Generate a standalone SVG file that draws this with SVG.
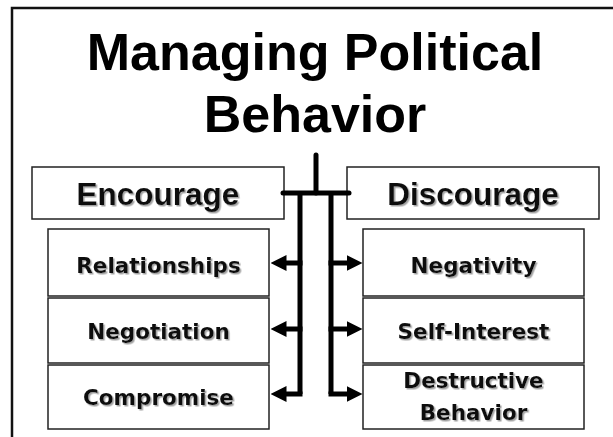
<svg xmlns="http://www.w3.org/2000/svg" width="613" height="437" viewBox="0 0 613 437">
  <defs>
    <filter id="sh" x="-10%" y="-20%" width="130%" height="160%">
      <feDropShadow dx="1.5" dy="1.5" stdDeviation="0.4" flood-color="#999" flood-opacity="0.9"/>
    </filter>
    <marker id="ah" markerUnits="userSpaceOnUse" markerWidth="16" markerHeight="17" viewBox="0 0 16 17" refX="0.5" refY="8.5" orient="auto">
      <path d="M0,0.5 L16,8.5 L0,16.5 z" fill="#000"/>
    </marker>
  </defs>
  <style>
    .title { font-family: "Liberation Sans", Arial, sans-serif; font-weight: bold; font-size: 52px; fill: #000; text-anchor: middle; }
    .head { font-family: "Liberation Sans", Arial, sans-serif; font-weight: bold; font-size: 31.5px; fill: #111; text-anchor: middle; filter: url(#sh); }
    .lbl { font-family: "DejaVu Sans", Verdana, sans-serif; font-weight: bold; font-size: 21.5px; fill: #111; text-anchor: middle; filter: url(#sh); }
    .box { fill: #fff; stroke: #222; stroke-width: 1.5; }
    .conn { fill: none; stroke: #000; stroke-width: 5; }
  </style>
  <rect width="613" height="437" fill="#fff"/>
  <path d="M12,437 V8 H613" fill="none" stroke="#111" stroke-width="2.5"/>

  <g id="title">
    <text class="title" x="315" y="70">Managing Political</text>
    <text class="title" x="315" y="132">Behavior</text>
  </g>

  <g id="encourage">
    <rect class="box" x="32" y="167" width="252" height="52"/>
    <text class="head" x="158" y="205">Encourage</text>
  </g>
  <g id="discourage">
    <rect class="box" x="347" y="167" width="252" height="52"/>
    <text class="head" x="473" y="205">Discourage</text>
  </g>

  <g id="relationships">
    <rect class="box" x="48" y="229" width="221" height="67"/>
    <text class="lbl" x="158.5" y="273">Relationships</text>
  </g>
  <g id="negotiation">
    <rect class="box" x="48" y="298" width="221" height="65"/>
    <text class="lbl" x="158.5" y="339">Negotiation</text>
  </g>
  <g id="compromise">
    <rect class="box" x="48" y="365" width="221" height="64"/>
    <text class="lbl" x="158.5" y="405">Compromise</text>
  </g>

  <g id="negativity">
    <rect class="box" x="363" y="229" width="221" height="67"/>
    <text class="lbl" x="473.5" y="273">Negativity</text>
  </g>
  <g id="self-interest">
    <rect class="box" x="363" y="298" width="221" height="65"/>
    <text class="lbl" x="473.5" y="339">Self-Interest</text>
  </g>
  <g id="destructive-behavior">
    <rect class="box" x="363" y="365" width="221" height="64"/>
    <text class="lbl" x="473.5" y="388">Destructive</text>
    <text class="lbl" x="473.5" y="420">Behavior</text>
  </g>

  <g id="connectors">
    <path class="conn" d="M316,155 V193" stroke-linecap="round"/>
    <path class="conn" d="M283,193 H349" stroke-linecap="round"/>
    <path class="conn" d="M300,193 V394"/>
    <path class="conn" d="M331,193 V394"/>
    <path class="conn" d="M302.5,263 H286" marker-end="url(#ah)"/>
    <path class="conn" d="M302.5,329 H286" marker-end="url(#ah)"/>
    <path class="conn" d="M302.5,394 H286" marker-end="url(#ah)"/>
    <path class="conn" d="M328.5,263 H347" marker-end="url(#ah)"/>
    <path class="conn" d="M328.5,329 H347" marker-end="url(#ah)"/>
    <path class="conn" d="M328.5,394 H347" marker-end="url(#ah)"/>
  </g>
</svg>
